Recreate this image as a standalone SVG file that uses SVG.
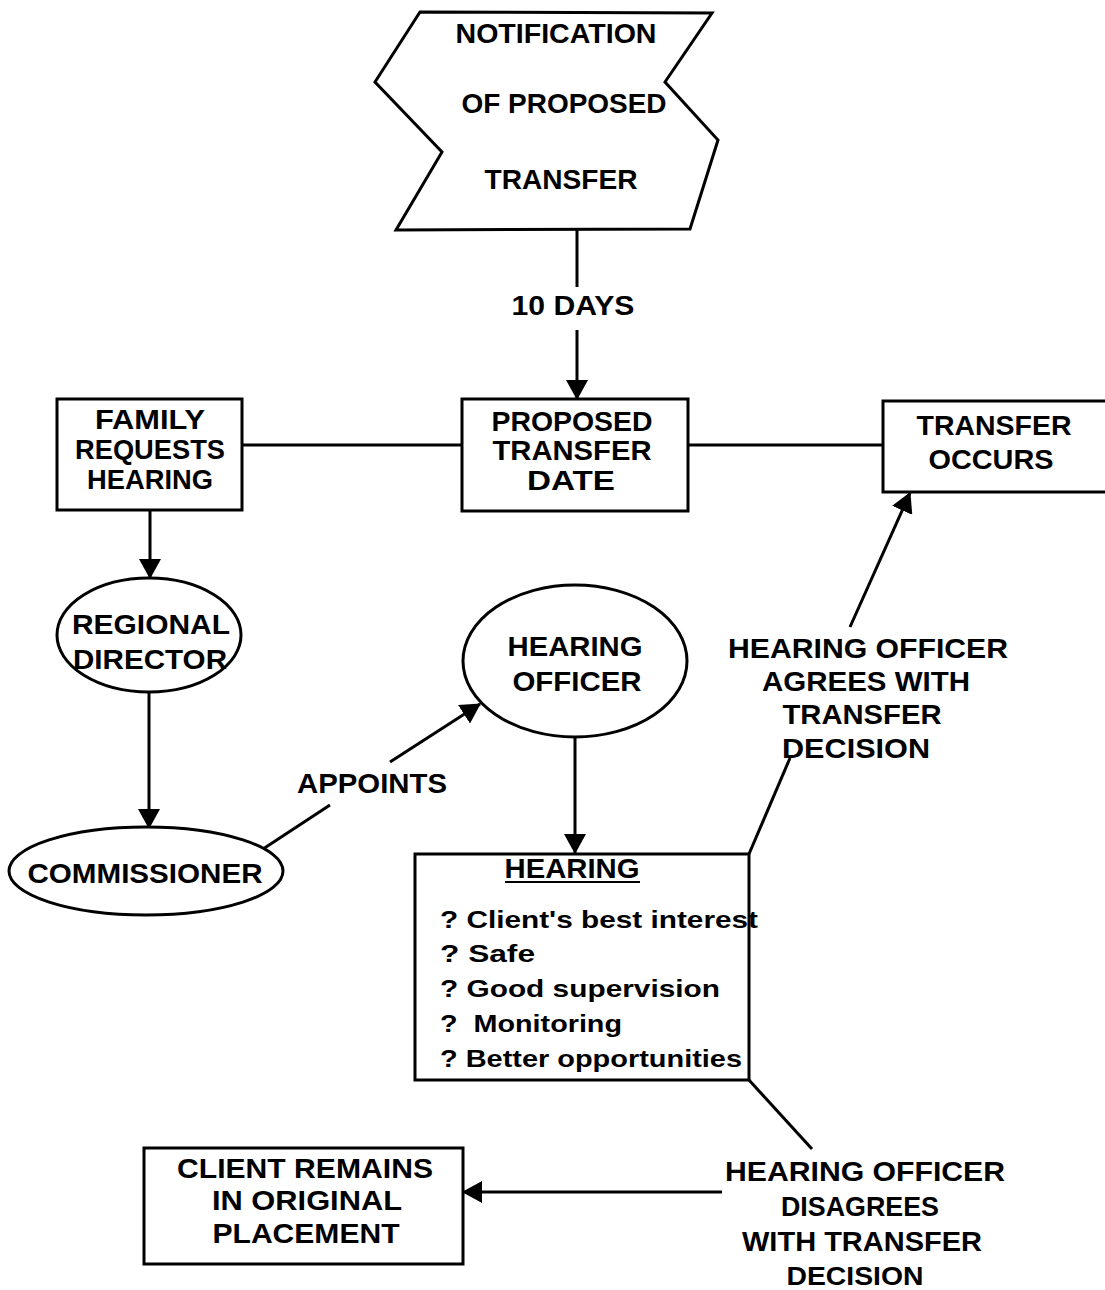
<svg xmlns="http://www.w3.org/2000/svg" width="1105" height="1290" viewBox="0 0 1105 1290">
  <style>
    .shape { fill: #ffffff; stroke: #000000; stroke-width: 3; }
    .link { fill: none; stroke: #000000; stroke-width: 3; }
    text { font-family: "Liberation Sans", Arial, sans-serif; font-weight: bold; font-size: 28px; fill: #000000; }
    .c { text-anchor: middle; }
    .list { font-size: 24px; }
  </style>
  <defs>
    <marker id="arrow" viewBox="0 0 20 22" refX="19" refY="11" markerWidth="20" markerHeight="22" markerUnits="userSpaceOnUse" orient="auto">
      <path d="M0,0 L20,11 L0,22 Z" fill="#000000"/>
    </marker>
  </defs>
  <rect width="1105" height="1290" fill="#ffffff"/>

  <!-- connectors -->
  <g id="connectors">
    <line class="link" x1="577" y1="230" x2="577" y2="287"/>
    <line class="link" x1="577" y1="330" x2="577" y2="399" marker-end="url(#arrow)"/>
    <line class="link" x1="242" y1="445" x2="462" y2="445"/>
    <line class="link" x1="688" y1="445" x2="883" y2="445"/>
    <line class="link" x1="150" y1="511" x2="150" y2="578" marker-end="url(#arrow)"/>
    <line class="link" x1="149" y1="692" x2="149" y2="828" marker-end="url(#arrow)"/>
    <line class="link" x1="263" y1="849" x2="330" y2="805"/>
    <line class="link" x1="390" y1="762" x2="480" y2="704" marker-end="url(#arrow)"/>
    <line class="link" x1="575" y1="737" x2="575" y2="853" marker-end="url(#arrow)"/>
    <line class="link" x1="749" y1="854" x2="790" y2="758"/>
    <line class="link" x1="850" y1="627" x2="910" y2="493" marker-end="url(#arrow)"/>
    <line class="link" x1="749" y1="1080" x2="812" y2="1149"/>
    <line class="link" x1="722" y1="1192" x2="463" y2="1192" marker-end="url(#arrow)"/>
    <text class="c" x="573" y="315" textLength="123" lengthAdjust="spacingAndGlyphs">10 DAYS</text>
    <text class="c" x="372" y="793" textLength="150" lengthAdjust="spacingAndGlyphs">APPOINTS</text>
  </g>

  <g id="notification">
    <polygon class="shape" points="420,12 712,13 665,82 718,140 690,229 396,230 442,152 375,82"/>
    <text class="c" x="556" y="43" textLength="201" lengthAdjust="spacingAndGlyphs">NOTIFICATION</text>
    <text class="c" x="564" y="113" textLength="205" lengthAdjust="spacingAndGlyphs">OF PROPOSED</text>
    <text class="c" x="561" y="189" textLength="153" lengthAdjust="spacingAndGlyphs">TRANSFER</text>
  </g>

  <g id="family-requests">
    <rect class="shape" x="57" y="399" width="185" height="111"/>
    <text class="c" x="150" y="429" textLength="110" lengthAdjust="spacingAndGlyphs">FAMILY</text>
    <text class="c" x="150" y="459" textLength="150" lengthAdjust="spacingAndGlyphs">REQUESTS</text>
    <text class="c" x="150" y="489" textLength="126" lengthAdjust="spacingAndGlyphs">HEARING</text>
  </g>

  <g id="proposed-date">
    <rect class="shape" x="462" y="399" width="226" height="112"/>
    <text class="c" x="572" y="431" textLength="161" lengthAdjust="spacingAndGlyphs">PROPOSED</text>
    <text class="c" x="572" y="460" textLength="159" lengthAdjust="spacingAndGlyphs">TRANSFER</text>
    <text class="c" x="571" y="490" textLength="88" lengthAdjust="spacingAndGlyphs">DATE</text>
  </g>

  <g id="transfer-occurs">
    <rect class="shape" x="883" y="401" width="240" height="91"/>
    <text class="c" x="994" y="435" textLength="155" lengthAdjust="spacingAndGlyphs">TRANSFER</text>
    <text class="c" x="991" y="469" textLength="125" lengthAdjust="spacingAndGlyphs">OCCURS</text>
  </g>

  <g id="regional-director">
    <ellipse class="shape" cx="149" cy="635" rx="92" ry="57"/>
    <text class="c" x="151" y="634" textLength="158" lengthAdjust="spacingAndGlyphs">REGIONAL</text>
    <text class="c" x="150" y="669" textLength="154" lengthAdjust="spacingAndGlyphs">DIRECTOR</text>
  </g>

  <g id="commissioner">
    <ellipse class="shape" cx="146" cy="871" rx="137" ry="44"/>
    <text class="c" x="145" y="883" textLength="235" lengthAdjust="spacingAndGlyphs">COMMISSIONER</text>
  </g>

  <g id="hearing-officer">
    <ellipse class="shape" cx="575" cy="661" rx="112" ry="76"/>
    <text class="c" x="575" y="656" textLength="135" lengthAdjust="spacingAndGlyphs">HEARING</text>
    <text class="c" x="577" y="691" textLength="129" lengthAdjust="spacingAndGlyphs">OFFICER</text>
  </g>

  <g id="hearing">
    <rect class="shape" x="415" y="854" width="334" height="226"/>
    <text class="c" x="572" y="878" textLength="135" lengthAdjust="spacingAndGlyphs">HEARING</text>
    <line x1="505" y1="882" x2="640" y2="882" stroke="#000000" stroke-width="2"/>
    <text class="list" x="440" y="928" textLength="318" lengthAdjust="spacingAndGlyphs">? Client's best interest</text>
    <text class="list" x="440" y="962" textLength="95" lengthAdjust="spacingAndGlyphs">? Safe</text>
    <text class="list" x="440" y="997" textLength="280" lengthAdjust="spacingAndGlyphs">? Good supervision</text>
    <text class="list" x="440" y="1032" textLength="182" lengthAdjust="spacingAndGlyphs" xml:space="preserve">?  Monitoring</text>
    <text class="list" x="440" y="1067" textLength="302" lengthAdjust="spacingAndGlyphs">? Better opportunities</text>
  </g>

  <g id="agrees-label">
    <text class="c" x="868" y="658" textLength="280" lengthAdjust="spacingAndGlyphs">HEARING OFFICER</text>
    <text class="c" x="866" y="691" textLength="208" lengthAdjust="spacingAndGlyphs">AGREES WITH</text>
    <text class="c" x="862" y="724" textLength="159" lengthAdjust="spacingAndGlyphs">TRANSFER</text>
    <text class="c" x="856" y="758" textLength="148" lengthAdjust="spacingAndGlyphs">DECISION</text>
  </g>

  <g id="disagrees-label">
    <text class="c" x="865" y="1181" textLength="280" lengthAdjust="spacingAndGlyphs">HEARING OFFICER</text>
    <text class="c" x="860" y="1216" textLength="158" lengthAdjust="spacingAndGlyphs">DISAGREES</text>
    <text class="c" x="862" y="1251" textLength="240" lengthAdjust="spacingAndGlyphs">WITH TRANSFER</text>
    <text class="c" x="855" y="1285" textLength="137" lengthAdjust="spacingAndGlyphs" style="font-size:26px">DECISION</text>
  </g>

  <g id="client-remains">
    <rect class="shape" x="144" y="1148" width="319" height="116"/>
    <text class="c" x="305" y="1178" textLength="256" lengthAdjust="spacingAndGlyphs">CLIENT REMAINS</text>
    <text class="c" x="307" y="1210" textLength="190" lengthAdjust="spacingAndGlyphs">IN ORIGINAL</text>
    <text class="c" x="306" y="1243" textLength="187" lengthAdjust="spacingAndGlyphs">PLACEMENT</text>
  </g>
</svg>
